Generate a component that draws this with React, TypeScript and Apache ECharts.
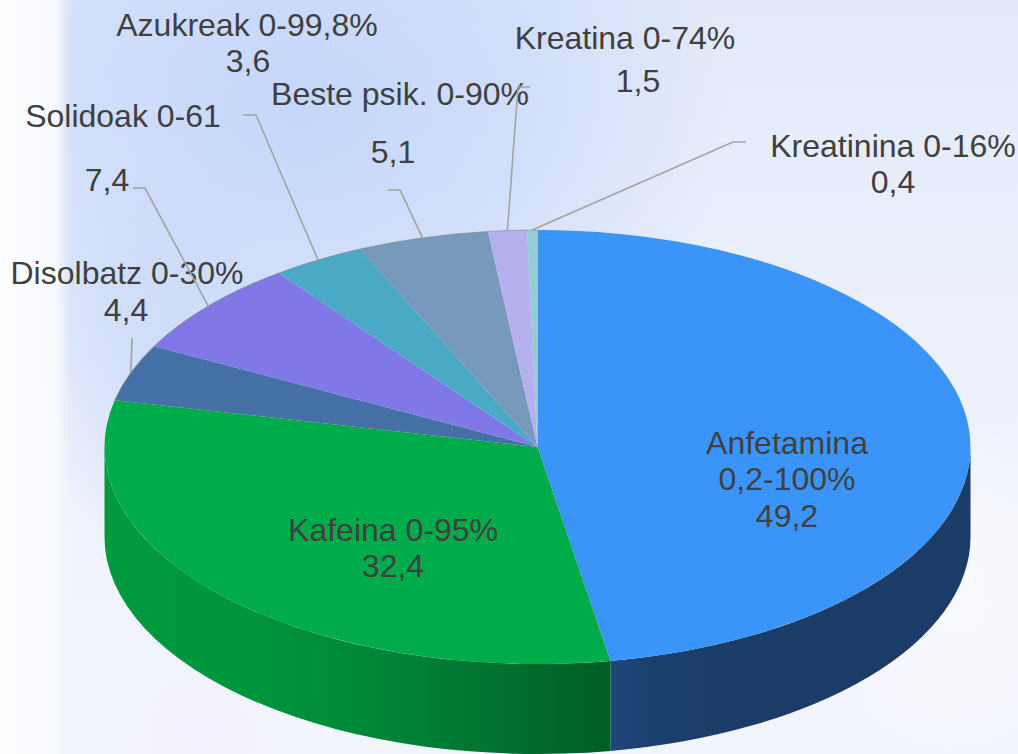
import React, { useEffect, useRef } from "react";
import * as echarts from "echarts";

const categories = [
  "Anfetamina\n0,2-100%",
  "Kafeina 0-95%",
  "Disolbatz 0-30%",
  "Solidoak 0-61",
  "Azukreak 0-99,8%",
  "Beste psik. 0-90%",
  "Kreatina 0-74%",
  "Kreatinina 0-16%",
];
const values = [49.2, 32.4, 4.4, 7.4, 3.6, 5.1, 1.5, 0.4];
const topColors = ["#3b94f8", "#00ab4a", "#4570a6", "#8078e6", "#4aa9c4", "#7699bc", "#b7b0ee", "#93cdd8"];

// Text anchor of each line of each slice's label: [centre x, middle y]
const labelLayout: number[][][] = [
  [[787, 443], [787, 479], [787, 516]],
  [[393, 530], [393, 566]],
  [[127, 273], [126, 310]],
  [[123, 116], [107, 180]],
  [[247, 25], [248, 61]],
  [[400, 94], [393, 152]],
  [[625, 38], [638, 81]],
  [[893, 146], [893, 182]],
];
// Leader line points from the label side; the pie end is added from the slice's mid angle
const leaderLayout: (number[][] | null)[] = [
  null,
  null,
  [[132, 338]],
  [[133, 188], [145, 188]],
  [[243, 115], [256, 115]],
  [[388, 190], [400, 190]],
  [[530, 87], [518, 87]],
  [[746, 142], [733, 142]],
];

const CX = 537.5;
const CY = 447;
const RX = 433;
const RY = 217;
const DEPTH = 90;
const FONT = "Liberation Sans";
const total = values.reduce((a, b) => a + b, 0);

const pt = (deg: number, dy = 0) => {
  const r = (deg * Math.PI) / 180;
  return [CX + RX * Math.sin(r), CY + dy - RY * Math.cos(r)];
};
const f = (n: number) => n.toFixed(2);

const sideStyles: Record<number, any> = {
  0: [[0, "#1f477b"], [0.12, "#1b3f6d"], [0.4, "#1a3c66"], [1, "#1a3c66"]],
  1: [[0, "#009a3e"], [0.3, "#00943b"], [0.62, "#008035"], [0.85, "#006a2b"], [1, "#005d24"]],
};

function renderItem(params: any, api: any) {
  const i = params.dataIndex;
  const before = values.slice(0, i).reduce((a, b) => a + b, 0);
  const a0 = (before / total) * 360;
  const a1 = ((before + api.value(0)) / total) * 360;
  const children: any[] = [];

  const s0 = Math.max(a0, 90);
  const s1 = Math.min(a1, 270);
  if (s1 > s0) {
    const [x0, y0] = pt(s0);
    const [x1, y1] = pt(s1);
    const d =
      `M${f(x0)} ${f(y0)} A${RX} ${RY} 0 0 1 ${f(x1)} ${f(y1)} ` +
      `L${f(x1)} ${f(y1 + DEPTH)} A${RX} ${RY} 0 0 0 ${f(x0)} ${f(y0 + DEPTH)} Z`;
    children.push({
      type: "path",
      shape: { pathData: d },
      style: {
        fill: {
          type: "linear", x: 0, y: 0, x2: 1, y2: 0,
          colorStops: (sideStyles[i] || [[0, "#333"], [1, "#333"]]).map((s: any) => ({ offset: s[0], color: s[1] })),
        },
      },
    });
  }

  const [tx0, ty0] = pt(a0);
  const [tx1, ty1] = pt(a1);
  const large = a1 - a0 > 180 ? 1 : 0;
  children.push({
    type: "path",
    shape: { pathData: `M${CX} ${CY} L${f(tx0)} ${f(ty0)} A${RX} ${RY} 0 ${large} 1 ${f(tx1)} ${f(ty1)} Z` },
    style: { fill: topColors[i] },
  });
  if (a0 >= 270) {
    children.push({
      type: "path",
      shape: { pathData: `M${f(tx0)} ${f(ty0)} A${RX} ${RY} 0 0 1 ${f(tx1)} ${f(ty1)}` },
      style: { fill: "none", stroke: "rgba(130,130,130,0.55)", lineWidth: 1 },
    });
  }

  const leader = leaderLayout[i];
  if (leader) {
    children.push({
      type: "polyline",
      shape: { points: [...leader, pt((a0 + a1) / 2)] },
      style: { fill: "none", stroke: "#a3a3a3", lineWidth: 1.6 },
    });
  }

  const lines = [...categories[i].split("\n"), String(api.value(0)).replace(".", ",")];
  lines.forEach((text, k) => {
    const [x, y] = labelLayout[i][k];
    children.push({
      type: "text",
      x,
      y,
      style: {
        text,
        fill: "#404040",
        fontFamily: FONT,
        fontSize: 32,
        align: "center",
        verticalAlign: "middle",
      },
    });
  });
  return { type: "group", children };
}

const blob = (x: number, y: number, w: number, h: number, color: string) => ({
  type: "rect",
  shape: { x, y, width: w, height: h },
  silent: true,
  style: {
    fill: {
      type: "radial", x: 0.5, y: 0.5, r: 0.5,
      colorStops: [
        { offset: 0, color },
        { offset: 0.55, color: color.replace(/[\d.]+\)$/, (m) => `${parseFloat(m) * 0.6})`) },
        { offset: 1, color: color.replace(/[\d.]+\)$/, "0)") },
      ],
    },
  },
});

export default function App() {
  const ref = useRef<HTMLDivElement>(null);
  useEffect(() => {
    document.body.style.margin = "0";
    const chart = echarts.init(ref.current!, undefined, { renderer: "svg" });
    chart.setOption({
      animation: false,
      backgroundColor: "#eef2fc",
      graphic: {
        elements: [
          { type: "rect", silent: true, shape: { x: 0, y: 0, width: 1018, height: 754 },
            style: { fill: { type: "linear", x: 0, y: 0, x2: 0, y2: 1, colorStops: [
              { offset: 0, color: "#e2eafa" }, { offset: 0.5, color: "#edf1fc" }, { offset: 1, color: "#f3f5fd" } ] } } },
          blob(-130, -240, 860, 700, "rgba(192,211,250,0.85)"),
          blob(30, 160, 260, 400, "rgba(200,216,248,0.7)"),
          blob(800, 420, 300, 340, "rgba(250,250,253,0.9)"),
          blob(100, 640, 200, 200, "rgba(240,240,252,0.8)"),
          { type: "rect", silent: true, shape: { x: 0, y: 0, width: 72, height: 754 },
            style: { fill: { type: "linear", x: 0, y: 0, x2: 1, y2: 0, colorStops: [
              { offset: 0, color: "rgba(253,254,255,1)" }, { offset: 0.78, color: "rgba(248,250,254,0.96)" }, { offset: 1, color: "rgba(240,244,253,0)" } ] } } },
        ],
      },
      series: [
        {
          type: "custom",
          coordinateSystem: "none",
          silent: true,
          renderItem,
          data: values.map((v, i) => ({ name: categories[i], value: [v] })),
        },
      ],
    });
    return () => chart.dispose();
  }, []);
  return <div ref={ref} style={{ position: "absolute", left: 0, top: 0, width: 1018, height: 754 }} />;
}
